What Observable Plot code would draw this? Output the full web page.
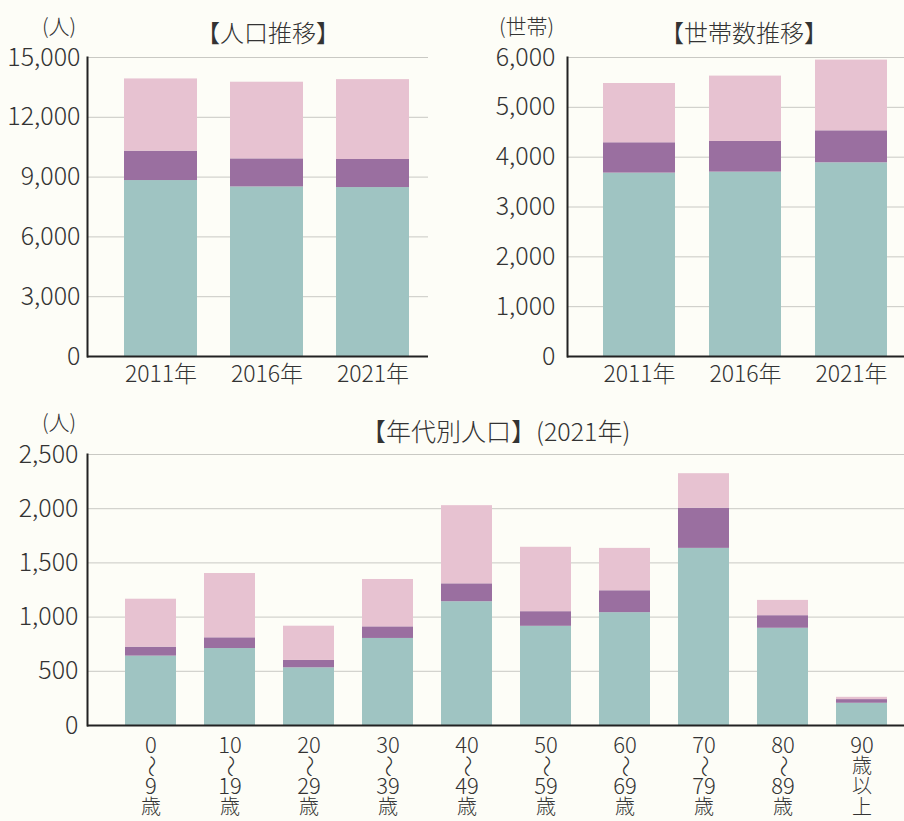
<!DOCTYPE html>
<html>
<head>
<meta charset="utf-8">
<script src="https://cdn.jsdelivr.net/npm/d3@7"></script>
<script src="https://cdn.jsdelivr.net/npm/@observablehq/plot@0.6"></script>
<style>
  html, body { margin: 0; padding: 0; background: #fdfdf7; }
  #wrap { position: relative; width: 904px; height: 821px; background: #fdfdf7; overflow: hidden;
          font-family: "Noto Sans CJK JP", "Noto Sans", sans-serif; color: #333; font-weight: 300; }
  .abs { position: absolute; white-space: nowrap; line-height: 1; }
  .unit { font-size: 21px; }
  .title { font-size: 24px; }
</style>
</head>
<body>
<div id="wrap">
  <div id="c1" class="abs" style="left:0;top:0"></div>
  <div id="c2" class="abs" style="left:450px;top:0"></div>
  <div id="c3" class="abs" style="left:0;top:400px"></div>
  <div class="abs unit" style="left:42px;top:15px">(人)</div>
  <div class="abs title" style="left:196px;top:20px">【人口推移】</div>
  <div class="abs unit" style="left:499px;top:15px">(世帯)</div>
  <div class="abs title" style="left:660px;top:20px">【世帯数推移】</div>
  <div class="abs unit" style="left:42px;top:411px">(人)</div>
  <div class="abs title" style="left:361px;top:418px;font-size:25px">【年代別人口】(2021年)</div>
</div>
<script>
// ---------- data ----------
const years = ["2011年", "2016年", "2021年"];
const seriesNames = ["A", "B", "C"]; // bottom (teal), middle (purple), top (pink)
const seriesColors = ["#9fc4c2", "#9a6fa0", "#e7c2d1"];

const popA = [8827, 8506, 8475];
const popB = [1475, 1409, 1409];
const popC = [3623, 3845, 4006];
const popTicks = [0, 3000, 6000, 9000, 12000, 15000];

const hhA = [3680, 3700, 3887];
const hhB = [609, 615, 642];
const hhC = [1189, 1312, 1419];
const hhTicks = [0, 1000, 2000, 3000, 4000, 5000, 6000];

const ages = ["0〜9歳", "10〜19歳", "20〜29歳", "30〜39歳", "40〜49歳", "50〜59歳", "60〜69歳", "70〜79歳", "80〜89歳", "90歳以上"];
const ageLabelLines = [
  ["0", "〜", "9", "歳"], ["10", "〜", "19", "歳"], ["20", "〜", "29", "歳"], ["30", "〜", "39", "歳"],
  ["40", "〜", "49", "歳"], ["50", "〜", "59", "歳"], ["60", "〜", "69", "歳"], ["70", "〜", "79", "歳"],
  ["80", "〜", "89", "歳"], ["90", "歳", "以", "上"]
];
const ageA = [640, 710, 532, 803, 1142, 915, 1041, 1634, 897, 205];
const ageB = [83, 99, 68, 107, 165, 135, 202, 371, 116, 34];
const ageC = [442, 593, 316, 437, 721, 594, 391, 318, 141, 21];
const ageTicks = [0, 500, 1000, 1500, 2000, 2500];

// ---------- helpers ----------
const FONT = '"Noto Sans CJK JP", "Noto Sans", sans-serif';
function table(cats, a, b, c) {
  return [a, b, c].flatMap((vals, s) => cats.map((cat, i) => ({cat, series: seriesNames[s], value: vals[i]})));
}
const fmt = d3.format(",");

function chart({cats, data, ticks, width, height, mL, mR, mT, mB, pI, pO, align, tickPad, xAxis, extra = []}) {
  return Plot.plot({
    width, height,
    marginLeft: mL, marginRight: mR, marginTop: mT, marginBottom: mB,
    style: {background: "transparent", fontFamily: FONT, fontSize: "24px", color: "#333", fontWeight: 300},
    x: {domain: cats, paddingInner: pI, paddingOuter: pO, align, label: null, axis: null},
    y: {domain: [ticks[0], ticks[ticks.length - 1]], label: null, axis: null},
    color: {domain: seriesNames, range: seriesColors},
    marks: [
      Plot.ruleY(ticks.slice(1), {stroke: "#c9c9c4", strokeWidth: 1}),
      Plot.barY(data, {x: "cat", y: "value", fill: "series", order: seriesNames}),
      Plot.axisY({ticks, tickFormat: fmt, tickSize: 0, tickPadding: tickPad, fontSize: 25, label: null}),
      ...(xAxis ? [Plot.axisX({tickSize: 0, tickPadding: 9, fontSize: 23, label: null})] : []),
      ...extra,
      Plot.ruleY([0], {stroke: "#222", strokeWidth: 2}),
      Plot.frame({anchor: "left", stroke: "#222", strokeWidth: 2})
    ]
  });
}

// chart 1: population
document.getElementById("c1").append(chart({
  cats: years, data: table(years, popA, popB, popC), ticks: popTicks,
  width: 450, height: 400, mL: 87, mR: 22, mT: 57, mB: 44,
  pI: 0.316, pO: 0.255, align: 0.65, tickPad: 7, xAxis: true
}));

// chart 2: households
document.getElementById("c2").append(chart({
  cats: years, data: table(years, hhA, hhB, hhC), ticks: hhTicks,
  width: 454, height: 400, mL: 117, mR: 0, mT: 57, mB: 44,
  pI: 0.319, pO: 0.238, align: 0.677, tickPad: 12, xAxis: true
}));

// chart 3: population by age group (multi-line vertical tick labels)
const idx = ages.map((d, j) => j);
const labelMarks = [0, 1, 2, 3].flatMap(i => {
  const line = j => ageLabelLines[j][i];
  const isTilde = j => line(j) === "〜";
  const isDigit = j => /^\d+$/.test(line(j));
  const common = {x: j => ages[j], text: line, frameAnchor: "bottom", lineAnchor: "middle", dy: 20 + i * 20.7, fill: "#333"};
  return [
    Plot.text(idx.filter(j => isDigit(j)), {...common, fontSize: 22}),
    Plot.text(idx.filter(j => !isDigit(j) && !isTilde(j)), {...common, fontSize: 20}),
    Plot.text(idx.filter(j => isTilde(j)), {...common, fontSize: 22, rotate: 90})
  ];
});
document.getElementById("c3").append(chart({
  cats: ages, data: table(ages, ageA, ageB, ageC), ticks: ageTicks,
  width: 904, height: 421, mL: 87, mR: 0, mT: 54, mB: 96,
  pI: 0.359, pO: 0.314, align: 0.69, tickPad: 9, xAxis: false, extra: labelMarks
}));
</script>
</body>
</html>
